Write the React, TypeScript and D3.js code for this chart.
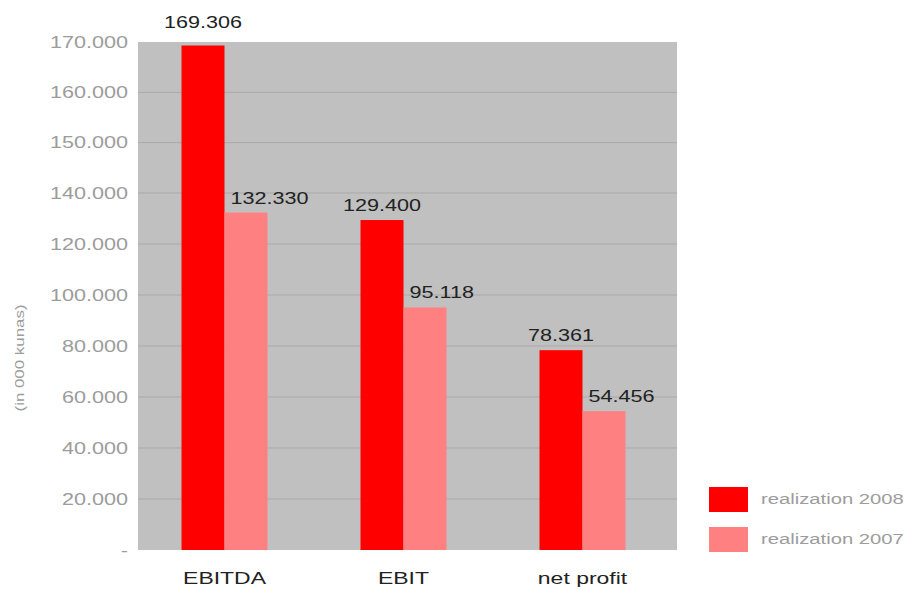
import React from "react";
import * as d3 from "d3";

const categories = ["EBITDA", "EBIT", "net profit"];
const seriesNames = ["realization 2008", "realization 2007"];
const values2008 = [169306, 129400, 78361];
const values2007 = [132330, 95118, 54456];
const tickValues = [0, 20000, 40000, 60000, 80000, 100000, 120000, 140000, 150000, 160000, 170000];
const colors = ["#ff0000", "#ff8080"];

const W = 909;
const H = 590;
const plot = { left: 138, right: 677, top: 42, bottom: 550 };
const SX = 1.35;

const fmt = (v: number) => (v === 0 ? "-" : d3.format(",")(v).replace(/,/g, "."));

function ST(props: { x: number; y: number; anchor?: string; size: number; fill: string; children: any; dy?: string }) {
  const { x, y, anchor = "start", size, fill, children, dy } = props;
  return (
    <text transform={`translate(${x},${y}) scale(${SX},1)`} textAnchor={anchor} fontSize={size} fill={fill} dy={dy}>
      {children}
    </text>
  );
}

export default function App() {
  // the original axis is piecewise: 20k steps up to 140k, then 10k steps
  const y = d3.scaleLinear().domain([0, 140000, 170000]).range([plot.bottom, 193, plot.top]);
  const x = d3.scaleBand<string>().domain(categories).range([135, 672]).paddingInner(0).paddingOuter(0);
  const groupW = 86;
  const barW = groupW / 2;
  const series = [values2008, values2007];

  return (
    <svg width={W} height={H} style={{ position: "absolute", left: 0, top: 0, fontFamily: "'Liberation Sans', Arial, sans-serif" }}>
      <rect x={0} y={0} width={W} height={H} fill="#fff" />
      <rect x={plot.left} y={plot.top} width={plot.right - plot.left} height={plot.bottom - plot.top} fill="#c0c0c0" />
      {tickValues.map((t) => (
        <g key={t}>
          {t > 0 && t < 170000 && (
            <line x1={plot.left} x2={plot.right} y1={y(t)} y2={y(t)} stroke="#a9a9a9" strokeWidth={1} />
          )}
          <ST x={128} y={y(t)} dy="0.35em" anchor="end" size={16} fill="#9c9c9c">
            {fmt(t)}
          </ST>
        </g>
      ))}
      <text
        transform={`translate(19,358) rotate(-90) scale(1.3,1)`}
        textAnchor="middle"
        dy="0.35em"
        fontSize={13}
        fill="#9c9c9c"
      >
        (in 000 kunas)
      </text>
      {categories.map((c, i) => {
        const cx = (x(c) as number) + x.bandwidth() / 2;
        const x0 = cx - groupW / 2;
        return (
          <g key={c}>
            {series.map((s, si) => {
              const bx = x0 + si * barW;
              const by = y(s[i]);
              const ly = Math.min(by - 9, plot.top - 14);
              return (
                <g key={si}>
                  <rect x={bx} y={by} width={barW} height={plot.bottom - by} fill={colors[si]} />
                  <ST
                    x={si === 0 ? bx + barW / 2 : bx + 6}
                    y={si === 0 && i === 0 ? ly : by - 9}
                    anchor={si === 0 ? "middle" : "start"}
                    size={16}
                    fill="#222"
                  >
                    {fmt(s[i])}
                  </ST>
                </g>
              );
            })}
            <ST x={cx} y={584} anchor="middle" size={17} fill="#222">
              {c}
            </ST>
          </g>
        );
      })}
      {seriesNames.map((n, i) => (
        <g key={n}>
          <rect x={709} y={487 + i * 40} width={39} height={25} fill={colors[i]} />
          <ST x={761} y={499 + i * 40} dy="0.35em" size={15} fill="#9c9c9c">
            {n}
          </ST>
        </g>
      ))}
    </svg>
  );
}
